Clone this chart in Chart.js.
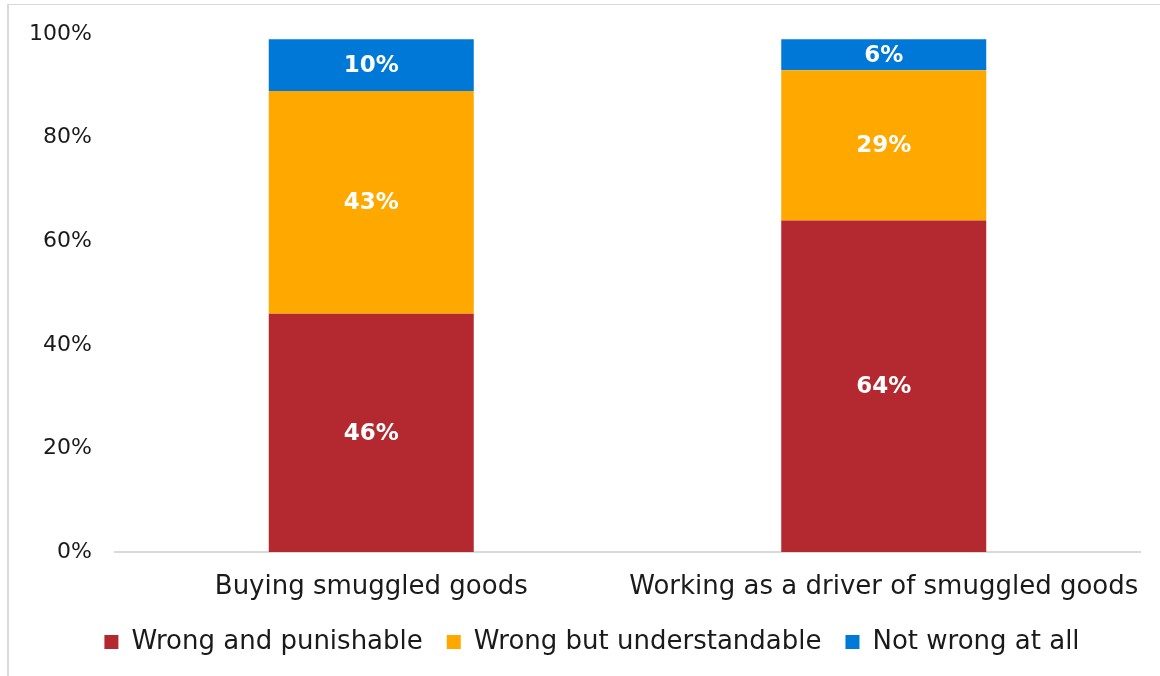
<!DOCTYPE html>
<html>
<head>
<meta charset="utf-8">
<script src="https://cdn.jsdelivr.net/npm/chart.js@4.4.0/dist/chart.umd.min.js"></script>
<style>
  html, body { margin: 0; padding: 0; background: #ffffff; }
  #frame { position: absolute; left: 7px; top: 4px; width: 1200px; height: 700px;
           border-left: 2px solid #d9d9d9; border-top: 1px solid #d9d9d9; }
  #wrap { position: absolute; left: 0; top: 0; width: 1160px; height: 676px; }
</style>
</head>
<body>
<div id="frame"></div>
<div id="wrap"><canvas id="chart"></canvas></div>
<script>
// chart data
const categories = ['Buying smuggled goods', 'Working as a driver of smuggled goods'];
const seriesNames = ['Wrong and punishable', 'Wrong but understandable', 'Not wrong at all'];
const punishable = [46, 64];
const understandable = [43, 29];
const notWrong = [10, 6];
const yTicks = [0, 20, 40, 60, 80, 100];

const colors = ['#B3292F', '#FFA800', '#0078D7'];
const FONT = "'DejaVu Sans', sans-serif";

// white bold value labels in the middle of each segment
const segmentLabels = {
    id: 'segmentLabels',
    afterDatasetsDraw(chart) {
        const ctx = chart.ctx;
        ctx.save();
        ctx.fillStyle = '#ffffff';
        ctx.font = 'bold 23px ' + FONT;
        ctx.textAlign = 'center';
        ctx.textBaseline = 'middle';
        chart.data.datasets.forEach((ds, i) => {
            chart.getDatasetMeta(i).data.forEach((bar, j) => {
                const mid = (bar.y + bar.base) / 2;
                ctx.fillText(ds.data[j] + '%', bar.x, mid + 1);
            });
        });
        ctx.restore();
    }
};

// the original legend sits a bit right of the canvas centre
const legendShift = {
    id: 'legendShift',
    afterLayout(chart) {
        if (!chart.legend) return;
        chart.legend.left += 22;
        chart.legend.right += 22;
    }
};

const datasets = [punishable, understandable, notWrong].map((vals, i) => ({
    label: seriesNames[i],
    data: vals,
    backgroundColor: colors[i],
    borderWidth: 0,
    barPercentage: 0.4,
    categoryPercentage: 1.0
}));

new Chart(document.getElementById('chart'), {
    type: 'bar',
    data: { labels: categories, datasets: datasets },
    plugins: [segmentLabels, legendShift],
    options: {
        responsive: true,
        maintainAspectRatio: false,
        animation: false,
        layout: { padding: { left: 0, right: 20, top: 34, bottom: 11 } },
        plugins: {
            tooltip: { enabled: false },
            legend: {
                position: 'bottom',
                labels: {
                    color: '#1a1a1a',
                    font: { family: FONT, size: 26 },
                    boxWidth: 14,
                    boxHeight: 14,
                    padding: 24
                }
            }
        },
        scales: {
            x: {
                stacked: true,
                grid: { display: false },
                border: { display: true, color: '#d9d9d9', width: 2 },
                ticks: {
                    color: '#1a1a1a',
                    font: { family: FONT, size: 26 },
                    padding: 12,
                    maxRotation: 0,
                    minRotation: 0,
                    autoSkip: false
                },
                afterFit: (s) => { s.height = 53; s.paddingLeft = 0; s.paddingRight = 0; }
            },
            y: {
                stacked: true,
                min: 0,
                max: 100,
                afterBuildTicks: (s) => { s.ticks = yTicks.map(v => ({ value: v })); },
                grid: { display: false },
                border: { display: false },
                ticks: {
                    color: '#1a1a1a',
                    font: { family: FONT, size: 22 },
                    padding: 15,
                    callback: (v) => v + '%'
                },
                afterFit: (s) => { s.width = 115; }
            }
        }
    }
});
</script>
</body>
</html>
